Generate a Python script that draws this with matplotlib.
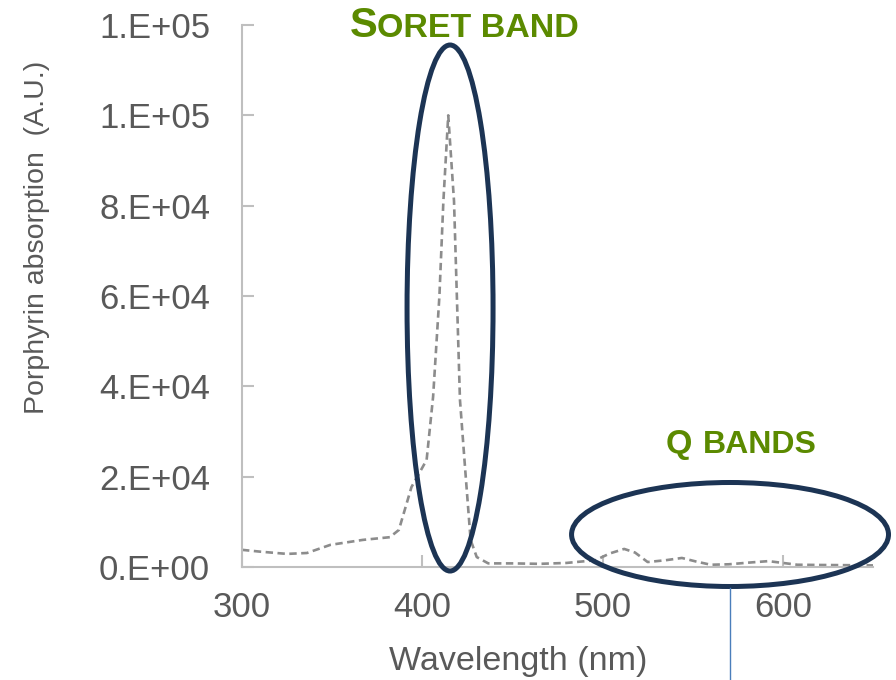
import matplotlib
matplotlib.use('Agg')
import matplotlib.pyplot as plt
from matplotlib.patches import Ellipse
from matplotlib.lines import Line2D
from matplotlib.ticker import FuncFormatter

plt.rcParams['font.family'] = ['Liberation Sans', 'DejaVu Sans']

# Espectro de absorcion
wavelength = [300, 310, 325, 336, 349, 367, 382, 387, 394, 402.4, 406, 409.5, 411.7, 414.4,
              417.6, 420.9, 423.7, 426.8, 430.2, 436.6, 450, 465, 480, 496, 504, 512,
              518, 525, 535, 544, 552, 560, 570, 582, 592, 600, 608, 620, 637, 650]
absorption = [3800, 3400, 2900, 3100, 4900, 6000, 6600, 8200, 17700, 23700, 37700, 60000,
              81000, 100000, 81000, 37000, 22100, 6000, 2200, 800, 800, 700, 900, 1500,
              3000, 4000, 3200, 1100, 1500, 2000, 1200, 500, 600, 1000, 1300, 900, 500,
              450, 400, 350]

x_ticks = [300, 400, 500, 600]
y_ticks = [0, 20000, 40000, 60000, 80000, 100000, 120000]

grey = '#595959'
axis_grey = '#BFBFBF'
green = '#5B8A00'
navy = '#1C3454'

fig = plt.figure(figsize=(8.96, 6.8), dpi=100)
ax = fig.add_axes([242/896, 1 - 567/680, 631/896, 542/680])

ax.plot(wavelength, absorption, color='#8C8C8C', lw=1.9, dashes=(2.8, 1.7))

ax.set_xlim(300, 650)
ax.set_ylim(0, 120000)
ax.set_xticks(x_ticks)
ax.set_yticks(y_ticks)
ax.yaxis.set_major_formatter(FuncFormatter(lambda v, p: f'{v:#.0E}'))

for s in ['top', 'right']:
    ax.spines[s].set_visible(False)
for s in ['left', 'bottom']:
    ax.spines[s].set_color(axis_grey)
    ax.spines[s].set_linewidth(1.5)
ax.tick_params(direction='in', length=8.5, width=1.5, color=axis_grey,
               labelsize=25, labelcolor=grey)
ax.tick_params(axis='y', pad=23)
ax.tick_params(axis='x', pad=17.5)

fig.text(518/896, 1 - 670/680, 'Wavelength (nm)', fontsize=24.5, color=grey,
         ha='center', va='baseline')
fig.text(37/896, 1 - 237/680, 'Porphyrin absorption  (A.U.)', fontsize=20.5, color=grey,
         rotation=90, ha='center', va='center')

# Elipses de anotacion
ax.add_patch(Ellipse((415.4, 57340), 47.7, 116460, fill=False, ec=navy, lw=3.6,
                     clip_on=False, zorder=5))
ax.add_patch(Ellipse((570.7, 7196), 175.8, 23026, fill=False, ec=navy, lw=3.6,
                     clip_on=False, zorder=5))
fig.add_artist(Line2D([730/896, 730/896], [1 - 588/680, 0], color='#4A7EBB', lw=1))

# Textos
fig.text(350/896, 1 - 37/680, 'S', fontsize=30, fontweight='bold', color=green,
         ha='left', va='baseline')
fig.text(377/896, 1 - 37/680, 'ORET BAND', fontsize=24.5, fontweight='bold', color=green,
         ha='left', va='baseline')
fig.text(666/896, 1 - 453/680, 'Q', fontsize=24.5, fontweight='bold', color=green,
         ha='left', va='baseline')
fig.text(703/896, 1 - 453/680, 'BANDS', fontsize=23, fontweight='bold', color=green,
         ha='left', va='baseline')

fig.savefig('out.png', dpi=100, facecolor='white')
